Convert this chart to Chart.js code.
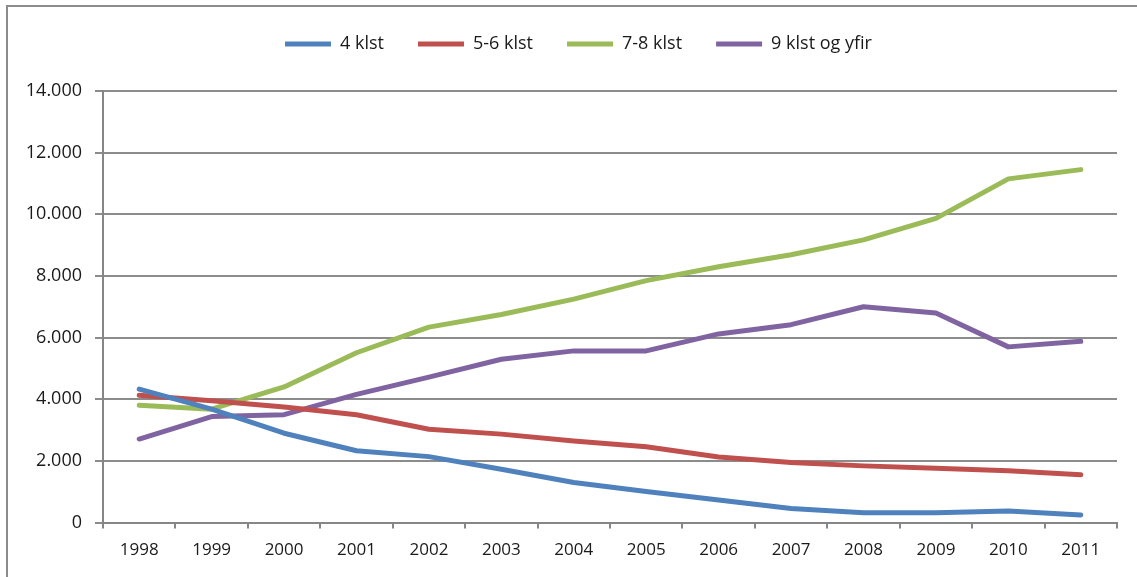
<!DOCTYPE html>
<html>
<head>
<meta charset="utf-8">
<script src="https://cdn.jsdelivr.net/npm/chart.js@4.4.1/dist/chart.umd.min.js"></script>
<style>
    html, body { margin: 0; padding: 0; background: #fff; }
    #wrap { position: relative; width: 1137px; height: 577px; overflow: hidden; }
    #frame { position: absolute; left: 6px; top: 5px; width: 1200px; height: 700px;
             border-left: 2px solid #8c8c8c; border-top: 2px solid #8c8c8c; }
    canvas { position: absolute; left: 0; top: 0; }
</style>
</head>
<body>
<div id="wrap">
    <div id="frame"></div>
    <canvas id="lineChart" width="1137" height="577"></canvas>
</div>
<script>
    const years = ['1998', '1999', '2000', '2001', '2002', '2003', '2004', '2005', '2006', '2007', '2008', '2009', '2010', '2011'];
    const klst4 = [4330, 3680, 2900, 2330, 2140, 1730, 1300, 1010, 730, 460, 320, 320, 380, 250];
    const klst56 = [4130, 3950, 3750, 3500, 3030, 2870, 2650, 2460, 2130, 1950, 1840, 1760, 1680, 1550];
    const klst78 = [3810, 3680, 4400, 5510, 6340, 6750, 7250, 7850, 8300, 8690, 9170, 9870, 11150, 11450];
    const klst9 = [2710, 3440, 3500, 4160, 4720, 5300, 5570, 5570, 6120, 6420, 7000, 6800, 5700, 5880];
    const yTicks = [0, 2000, 4000, 6000, 8000, 10000, 12000, 14000];

    Chart.defaults.font.family = "'Open Sans', sans-serif";
    Chart.defaults.color = '#1a1a1a';

    function series(label, data, color) {
        return {
            label: label,
            data: data,
            borderColor: color,
            backgroundColor: color,
            borderWidth: 5,
            borderCapStyle: 'round',
            borderJoinStyle: 'round',
            pointRadius: 0,
            pointStyle: 'line',
            tension: 0
        };
    }

    // extra room under the legend, and nudge it right a little
    const legendMargin = {
        id: 'legendMargin',
        beforeInit: function (chart) {
            const fit = chart.legend.fit;
            chart.legend.fit = function () {
                fit.bind(chart.legend)();
                this.height += 28;
            };
        },
        afterLayout: function (chart) {
            chart.legend.left += 14;
            chart.legend.right += 14;
        }
    };

    const ctx = document.getElementById('lineChart').getContext('2d');
    const lineChart = new Chart(ctx, {
        type: 'line',
        data: {
            labels: years,
            datasets: [
                series('4 klst', klst4, '#4F81BD'),
                series('5-6 klst', klst56, '#C0504D'),
                series('7-8 klst', klst78, '#9BBB59'),
                series('9 klst og yfir', klst9, '#8064A2')
            ]
        },
        plugins: [legendMargin],
        options: {
            responsive: false,
            animation: false,
            layout: {
                padding: { left: 12, right: 20, top: 1, bottom: 6 }
            },
            plugins: {
                legend: {
                    position: 'top',
                    labels: {
                        usePointStyle: true,
                        pointStyleWidth: 46,
                        boxHeight: 5,
                        padding: 34,
                        font: { size: 18 },
                        color: '#1a1a1a'
                    }
                },
                tooltip: { enabled: false }
            },
            scales: {
                x: {
                    offset: true,
                    grid: {
                        offset: true,
                        drawOnChartArea: false,
                        color: '#868686',
                        lineWidth: 2,
                        tickLength: 6
                    },
                    border: { color: '#868686', width: 2 },
                    ticks: {
                        font: { size: 17 },
                        padding: 11,
                        maxRotation: 0
                    }
                },
                y: {
                    min: 0,
                    max: 14000,
                    afterBuildTicks: function (axis) {
                        axis.ticks = yTicks.map(function (v) { return { value: v }; });
                    },
                    afterFit: function (axis) {
                        axis.width = 91;
                    },
                    grid: {
                        color: '#8c8c8c',
                        lineWidth: 2,
                        tickLength: 8
                    },
                    border: { color: '#868686', width: 2 },
                    ticks: {
                        font: { size: 18 },
                        padding: 13,
                        callback: function (value) {
                            return value.toString().replace(/\B(?=(\d{3})+(?!\d))/g, '.');
                        }
                    }
                }
            }
        }
    });
</script>
</body>
</html>
